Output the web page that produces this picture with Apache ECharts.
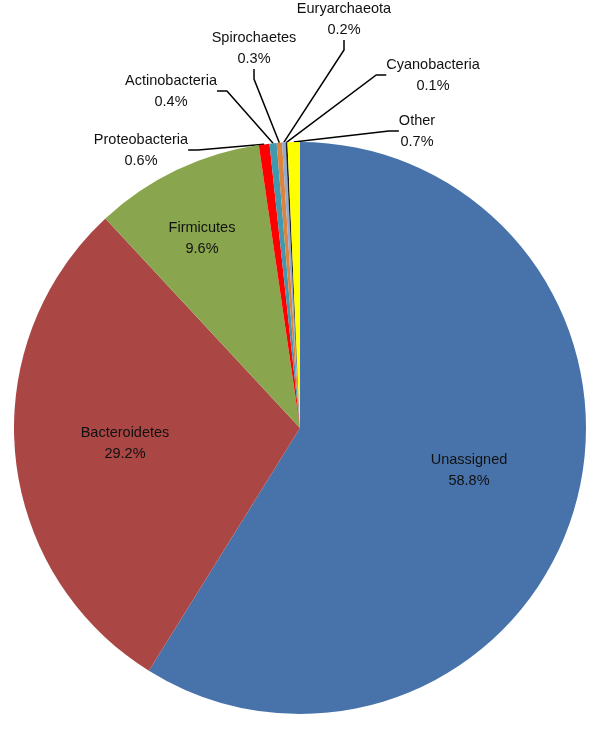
<!DOCTYPE html>
<html>
<head>
<meta charset="utf-8">
<script src="https://cdn.jsdelivr.net/npm/echarts@6/dist/echarts.min.js"></script>
<style>
  html, body { margin: 0; padding: 0; background: #fff; }
  #chart { width: 600px; height: 741px; }
</style>
</head>
<body>
<div id="chart"></div>
<script>
// phylum shares, clockwise from 12 o'clock
var phyla = ['Unassigned', 'Bacteroidetes', 'Firmicutes', 'Proteobacteria', 'Actinobacteria',
             'Spirochaetes', 'Euryarchaeota', 'Cyanobacteria', 'Other'];
var shares = [58.8, 29.2, 9.6, 0.6, 0.4, 0.3, 0.2, 0.1, 0.7];
var sliceColors = ['#4773AA', '#AA4644', '#89A54E', '#FF0000', '#4198AF',
                   '#DB843D', '#93A9CF', '#1F1F1F', '#FFFF00'];

// where each label sits on the page (layout only)
var labelSpots = [
    [469, 470], [125, 443], [202, 238], [141, 150], [171, 91],
    [254, 48], [344, 19], [433, 75], [417, 131]
];

var myChart = echarts.init(document.getElementById('chart'));

var pieData = [];
for (var i = 0; i < phyla.length; i++) {
    var big = shares[i] > 5;
    pieData.push({
        name: phyla[i],
        value: shares[i],
        itemStyle: { color: sliceColors[i] },
        label: { position: big ? 'inside' : 'outside' },
        labelLine: { show: !big }
    });
}

myChart.setOption({
    animation: false,
    series: [{
        type: 'pie',
        center: [300, 428],
        radius: 286,
        startAngle: 90,
        clockwise: true,
        avoidLabelOverlap: false,
        itemStyle: { borderWidth: 0 },
        label: {
            formatter: '{b}\n{c}%',
            color: '#111',
            fontFamily: '"Liberation Sans", Arial, sans-serif',
            fontSize: 14.5,
            lineHeight: 21,
            align: 'center'
        },
        labelLine: {
            length: 10,
            length2: 10,
            lineStyle: { color: '#000', width: 1.5 }
        },
        labelLayout: function (params) {
            var p = labelSpots[params.dataIndex];
            return { x: p[0], y: p[1], align: 'center', verticalAlign: 'middle' };
        },
        data: pieData
    }]
});
</script>
</body>
</html>
